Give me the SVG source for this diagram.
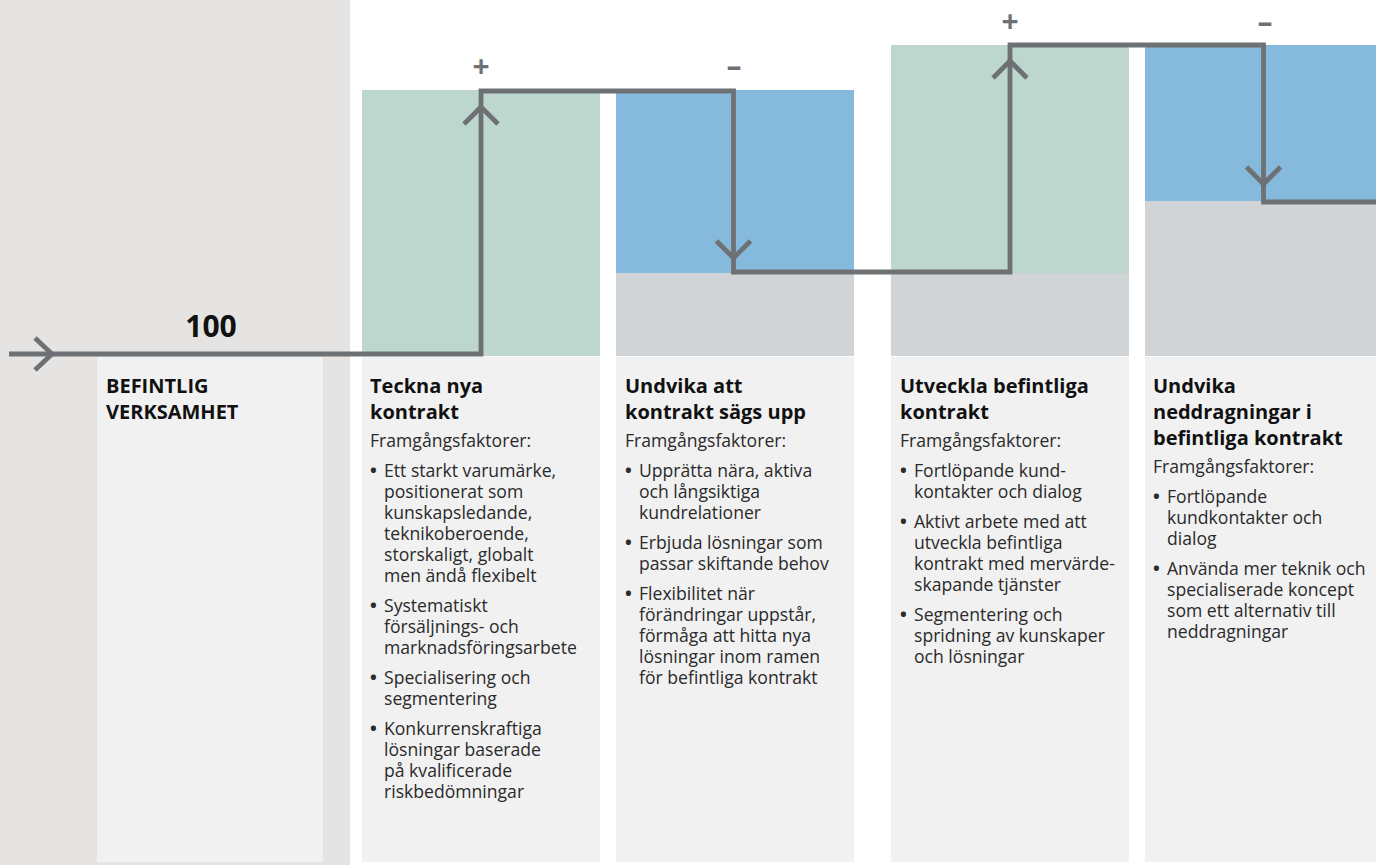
<svg xmlns="http://www.w3.org/2000/svg" width="1376" height="865" viewBox="0 0 1376 865">
  <defs>
    <style>
      .panel { fill: #e5e4e2; }
      .card { fill: #f1f1f1; }
      .gain { fill: #bdd7cf; }
      .loss { fill: #86badd; }
      .base { fill: #d1d4d7; }
      .flow { fill: none; stroke: #6e7174; stroke-width: 4.8; stroke-linejoin: miter; stroke-linecap: butt; }
      .head { font-family: "Open Sans", "Liberation Sans", sans-serif; font-weight: 700; font-size: 20px; fill: #111; }
      .body { font-family: "Open Sans", "Liberation Sans", sans-serif; font-weight: 400; font-size: 17.6px; fill: #2a2a2a; }
      .dot { font-weight: 700; font-size: 18px; }
      .sign { font-family: "Open Sans", "Liberation Sans", sans-serif; font-weight: 700; font-size: 30px; fill: #6e7174; text-anchor: middle; }
      .value { font-family: "Open Sans", "Liberation Sans", sans-serif; font-weight: 700; font-size: 30px; fill: #111; text-anchor: middle; }
    </style>
  </defs>

  <rect width="1376" height="865" fill="#ffffff"/>

  <!-- Starting level -->
  <g id="existing">
    <rect class="panel" x="0" y="0" width="350" height="865"/>
    <rect class="card" x="97" y="357" width="226" height="505"/>
    <text class="value" x="211" y="337">100</text>
    <text class="head" x="106" y="393">BEFINTLIG<tspan x="106" dy="26">VERKSAMHET</tspan></text>
  </g>

  <!-- Step 1: new contracts -->
  <g id="new-contracts">
    <rect class="gain" x="362" y="90" width="238" height="266"/>
    <rect class="card" x="362" y="357" width="238" height="505"/>
    <text class="sign" x="481" y="77">+</text>
    <text class="head" x="370" y="393">Teckna nya<tspan x="370" dy="26">kontrakt</tspan></text>
    <text class="body" x="370" y="447">Framgångsfaktorer:</text>
    <text class="body" x="370" y="477"><tspan class="dot">•</tspan><tspan x="384">Ett starkt varumärke,</tspan><tspan x="384" dy="21">positionerat som</tspan><tspan x="384" dy="21">kunskapsledande,</tspan><tspan x="384" dy="21">teknikoberoende,</tspan><tspan x="384" dy="21">storskaligt, globalt</tspan><tspan x="384" dy="21">men ändå flexibelt</tspan></text>
    <text class="body" x="370" y="612"><tspan class="dot">•</tspan><tspan x="384">Systematiskt</tspan><tspan x="384" dy="21">försäljnings- och</tspan><tspan x="384" dy="21">marknadsföringsarbete</tspan></text>
    <text class="body" x="370" y="684"><tspan class="dot">•</tspan><tspan x="384">Specialisering och</tspan><tspan x="384" dy="21">segmentering</tspan></text>
    <text class="body" x="370" y="735"><tspan class="dot">•</tspan><tspan x="384">Konkurrenskraftiga</tspan><tspan x="384" dy="21">lösningar baserade</tspan><tspan x="384" dy="21">på kvalificerade</tspan><tspan x="384" dy="21">riskbedömningar</tspan></text>
  </g>

  <!-- Step 2: avoid terminations -->
  <g id="avoid-termination">
    <rect class="loss" x="616" y="90" width="238" height="183"/>
    <rect class="base" x="616" y="273" width="238" height="83"/>
    <rect class="card" x="616" y="357" width="238" height="505"/>
    <text class="sign" x="734" y="77">–</text>
    <text class="head" x="625" y="393">Undvika att<tspan x="625" dy="26">kontrakt sägs upp</tspan></text>
    <text class="body" x="625" y="447">Framgångsfaktorer:</text>
    <text class="body" x="625" y="477"><tspan class="dot">•</tspan><tspan x="639">Upprätta nära, aktiva</tspan><tspan x="639" dy="21">och långsiktiga</tspan><tspan x="639" dy="21">kundrelationer</tspan></text>
    <text class="body" x="625" y="549"><tspan class="dot">•</tspan><tspan x="639">Erbjuda lösningar som</tspan><tspan x="639" dy="21">passar skiftande behov</tspan></text>
    <text class="body" x="625" y="600"><tspan class="dot">•</tspan><tspan x="639">Flexibilitet när</tspan><tspan x="639" dy="21">förändringar uppstår,</tspan><tspan x="639" dy="21">förmåga att hitta nya</tspan><tspan x="639" dy="21">lösningar inom ramen</tspan><tspan x="639" dy="21">för befintliga kontrakt</tspan></text>
  </g>

  <!-- Step 3: develop existing contracts -->
  <g id="develop-existing">
    <rect class="gain" x="891" y="45" width="238" height="228"/>
    <rect class="base" x="891" y="273" width="238" height="83"/>
    <rect class="card" x="891" y="357" width="238" height="505"/>
    <text class="sign" x="1010" y="32">+</text>
    <text class="head" x="900" y="393">Utveckla befintliga<tspan x="900" dy="26">kontrakt</tspan></text>
    <text class="body" x="900" y="447">Framgångsfaktorer:</text>
    <text class="body" x="900" y="477"><tspan class="dot">•</tspan><tspan x="914">Fortlöpande kund-</tspan><tspan x="914" dy="21">kontakter och dialog</tspan></text>
    <text class="body" x="900" y="528"><tspan class="dot">•</tspan><tspan x="914">Aktivt arbete med att</tspan><tspan x="914" dy="21">utveckla befintliga</tspan><tspan x="914" dy="21">kontrakt med mervärde-</tspan><tspan x="914" dy="21">skapande tjänster</tspan></text>
    <text class="body" x="900" y="621"><tspan class="dot">•</tspan><tspan x="914">Segmentering och</tspan><tspan x="914" dy="21">spridning av kunskaper</tspan><tspan x="914" dy="21">och lösningar</tspan></text>
  </g>

  <!-- Step 4: avoid reductions -->
  <g id="avoid-reductions">
    <rect class="loss" x="1145" y="45" width="231" height="156"/>
    <rect class="base" x="1145" y="201" width="231" height="155"/>
    <rect class="card" x="1145" y="357" width="231" height="505"/>
    <text class="sign" x="1265" y="33">–</text>
    <text class="head" x="1153" y="393">Undvika<tspan x="1153" dy="26">neddragningar i</tspan><tspan x="1153" dy="26">befintliga kontrakt</tspan></text>
    <text class="body" x="1153" y="473">Framgångsfaktorer:</text>
    <text class="body" x="1153" y="503"><tspan class="dot">•</tspan><tspan x="1167">Fortlöpande</tspan><tspan x="1167" dy="21">kundkontakter och</tspan><tspan x="1167" dy="21">dialog</tspan></text>
    <text class="body" x="1153" y="575"><tspan class="dot">•</tspan><tspan x="1167">Använda mer teknik och</tspan><tspan x="1167" dy="21">specialiserade koncept</tspan><tspan x="1167" dy="21">som ett alternativ till</tspan><tspan x="1167" dy="21">neddragningar</tspan></text>
  </g>

  <!-- Value line with direction chevrons -->
  <g id="connectors">
    <path class="flow" d="M9,354 H481 V91 H733.5 V272 H1010 V45 H1263.5 V202 H1376"/>
    <path class="flow" d="M35,338 L52,354 L35,370"/>
    <path class="flow" d="M464,124 L481,107 L498,124"/>
    <path class="flow" d="M716.5,241 L733.5,258 L750.5,241"/>
    <path class="flow" d="M993,78 L1010,61 L1027,78"/>
    <path class="flow" d="M1246.5,167 L1263.5,184 L1280.5,167"/>
  </g>
</svg>
